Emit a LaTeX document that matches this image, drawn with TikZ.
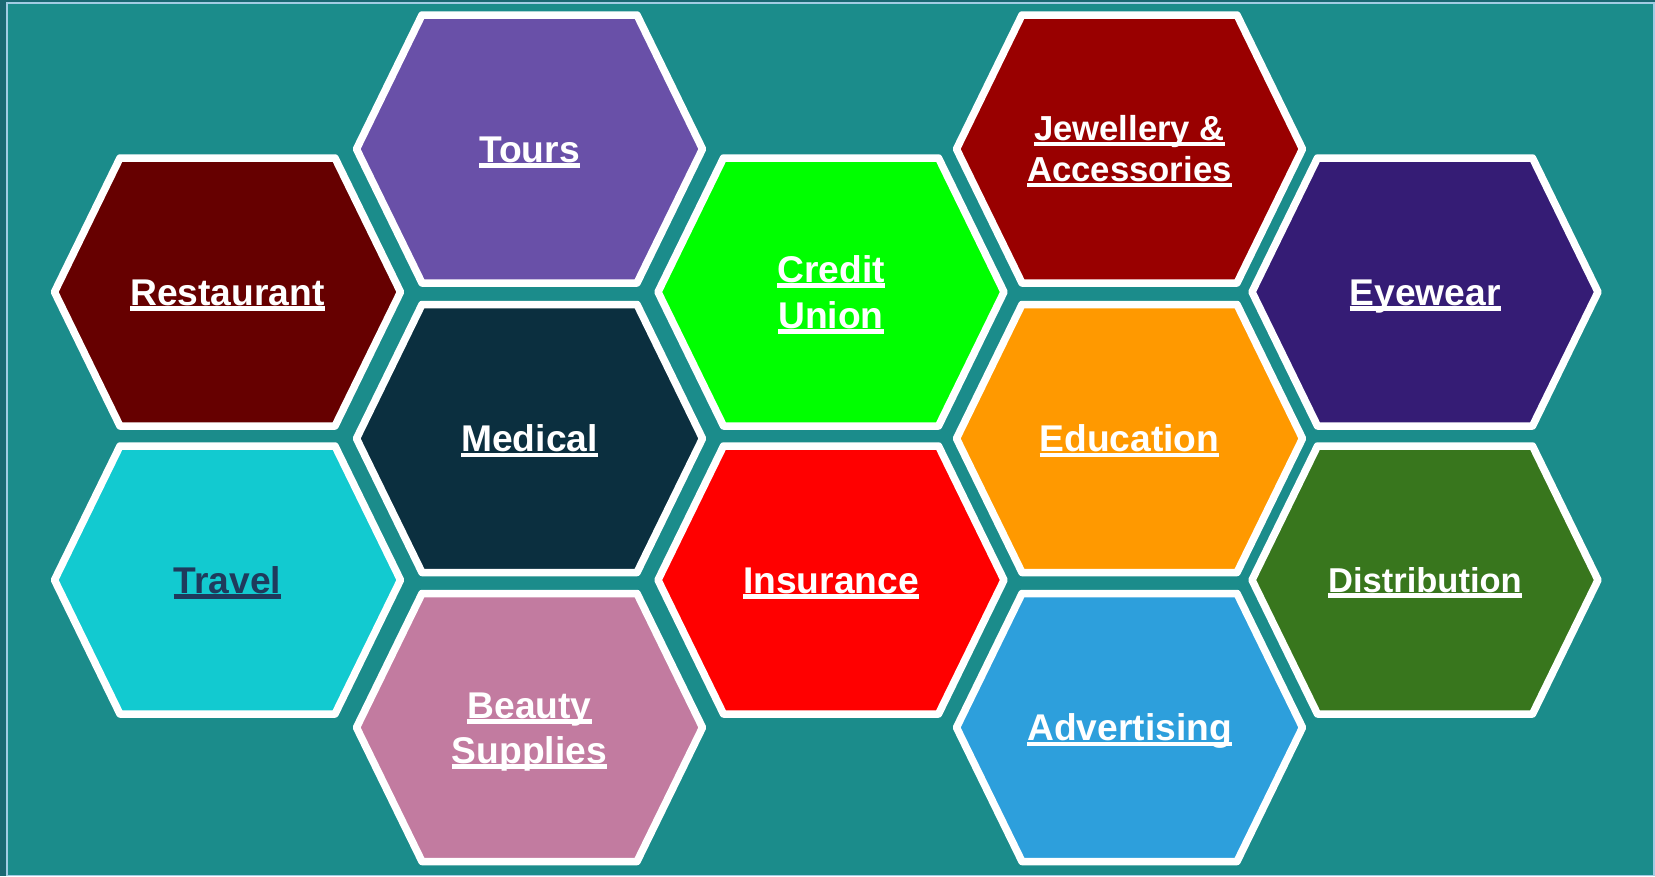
\documentclass[tikz,border=0pt]{standalone}
\usepackage{fontspec}
\setmainfont{Liberation Sans}
\definecolor{outerbg}{HTML}{1A6872}
\definecolor{panelbg}{HTML}{1B8C8B}
\definecolor{panelrim}{HTML}{A2CCE4}
\definecolor{cRestaurant}{HTML}{660000}
\definecolor{cTours}{HTML}{6950A8}
\definecolor{cCredit}{HTML}{00FF00}
\definecolor{cJewel}{HTML}{990000}
\definecolor{cEye}{HTML}{351C75}
\definecolor{cMedical}{HTML}{0B2F3F}
\definecolor{cEdu}{HTML}{FF9900}
\definecolor{cTravel}{HTML}{12CAD0}
\definecolor{cTravelText}{HTML}{1F3A5C}
\definecolor{cIns}{HTML}{FF0000}
\definecolor{cDist}{HTML}{38761D}
\definecolor{cBeauty}{HTML}{C27BA0}
\definecolor{cAdv}{HTML}{2D9FDC}
\newbox\ulbox
\newcommand\ulx[1]{\setbox\ulbox\hbox{#1}\rlap{\vrule height -1pt depth 5.3pt width \wd\ulbox}\box\ulbox}
\newcommand\twol[3]{\vbox{\baselineskip=#1pt\lineskiplimit=-100pt\halign{\hfil##\hfil\cr\ulx{#2}\cr\ulx{#3}\cr}}}
\newcommand\hexshape[3]{%
  \draw[hexline, fill=#3] (#1-173,#2) -- (#1-107.5,#2-134) -- (#1+107.5,#2-134)
    -- (#1+173,#2) -- (#1+107.5,#2+134) -- (#1-107.5,#2+134) -- cycle;}
\tikzset{
  hexline/.style={draw=white, line width=7.5pt, line join=round},
  lbl/.style={text=white, inner sep=0pt, anchor=base,
    font=\bfseries\fontsize{37.2}{44}\selectfont},
}
\begin{document}
\begin{tikzpicture}[x=1pt, y=-1pt]
\fill[outerbg] (0,0) rectangle (1655,876);
\useasboundingbox (0,0) rectangle (1655,876);
\draw[fill=panelbg, draw=panelrim, line width=1.5pt] (7,3) rectangle (1654,875.5);

% column B / D (offset rows)
\hexshape{529.5}{149}{cTours}
\hexshape{529.5}{438.5}{cMedical}
\hexshape{529.5}{727.5}{cBeauty}
\hexshape{1129.5}{149}{cJewel}
\hexshape{1129.5}{438.5}{cEdu}
\hexshape{1129.5}{727.5}{cAdv}
% columns A / C / E
\hexshape{227.5}{292}{cRestaurant}
\hexshape{227.5}{580}{cTravel}
\hexshape{831}{292}{cCredit}
\hexshape{831}{580}{cIns}
\hexshape{1425}{292}{cEye}
\hexshape{1425}{580}{cDist}

% labels
\node[lbl] (tours) at (529.5,149+13.3) {\ulx{Tours}};
\node[lbl] (medical) at (529.5,438.5+13.3) {\ulx{Medical}};
\node[lbl] (beauty) at (529.5,727.5+13.3+22.5) {\twol{45}{Beauty}{Supplies}};
\node[lbl, font=\bfseries\fontsize{34.7}{41}\selectfont] (jewel) at (1129.5,149+12.4+20.5) {\twol{41}{Jewellery \&}{Accessories}};
\node[lbl] (education) at (1129.5,438.5+13.3) {\ulx{Education}};
\node[lbl] (advertising) at (1129.5,727.5+13.3) {\ulx{Advertising}};
\node[lbl] (restaurant) at (227.5,292+13.3) {\ulx{Restaurant}};
\node[lbl, text=cTravelText] (travel) at (227.5,580+13.3) {\ulx{Travel}};
\node[lbl] (credit) at (831,292+13.3+23) {\twol{46}{Credit}{Union}};
\node[lbl] (insurance) at (831,580+13.3) {\ulx{Insurance}};
\node[lbl] (eyewear) at (1425,292+13.3) {\ulx{Eyewear}};
\node[lbl, font=\bfseries\fontsize{34.5}{41}\selectfont] (distribution) at (1425,580+12.4) {\ulx{Distribution}};
\end{tikzpicture}
\end{document}
